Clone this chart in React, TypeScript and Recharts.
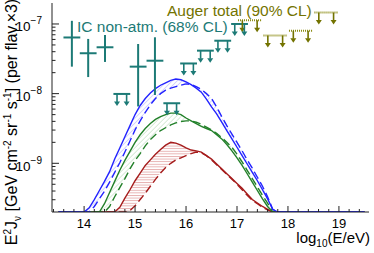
import React from 'react';
import { ComposedChart, Line, Area, Scatter, XAxis, YAxis, ErrorBar } from 'recharts';

// log10(E/eV) sampling grid of the model curves
const E_GRID = [13.5, 14.0, 14.1, 14.2, 14.3, 14.4, 14.5, 14.6, 14.7, 14.8, 14.9, 15.0, 15.1, 15.2, 15.3, 15.4, 15.5, 15.6, 15.7, 15.8, 15.9, 16.0, 16.1, 16.2, 16.3, 16.4, 16.5, 16.6, 16.7, 16.8, 16.9, 17.0, 17.1, 17.2, 17.3, 17.4, 17.5, 17.6, 17.7, 17.8, 19.5];

const BLUE_SOLID = [2e-10, 2e-10, 2.29e-10, 3.02e-10, 4.07e-10, 5.5e-10, 7.59e-10, 1.15e-9, 1.66e-9, 2.4e-9, 3.47e-9, 5.01e-9, 6.76e-9, 8.51e-9, 1.02e-8, 1.18e-8, 1.32e-8, 1.43e-8, 1.55e-8, 1.62e-8, 1.58e-8, 1.48e-8, 1.35e-8, 1.2e-8, 1.05e-8, 8.32e-9, 6.46e-9, 5.13e-9, 3.89e-9, 2.95e-9, 2.24e-9, 1.7e-9, 1.29e-9, 9.77e-10, 7.41e-10, 5.62e-10, 4.17e-10, 3.09e-10, 2.19e-10, 2e-10, 2e-10];
const BLUE_DASH = [2e-10, 2e-10, 2e-10, 2.4e-10, 3.09e-10, 3.98e-10, 5.37e-10, 7.41e-10, 1.02e-9, 1.45e-9, 2.09e-9, 3.02e-9, 4.07e-9, 5.37e-9, 6.92e-9, 8.51e-9, 1.0e-8, 1.12e-8, 1.2e-8, 1.26e-8, 1.32e-8, 1.38e-8, 1.35e-8, 1.26e-8, 1.15e-8, 1.0e-8, 8.51e-9, 6.46e-9, 4.68e-9, 3.47e-9, 2.63e-9, 2.0e-9, 1.51e-9, 1.12e-9, 8.51e-10, 6.31e-10, 4.68e-10, 3.31e-10, 2.19e-10, 2e-10, 2e-10];
const GREEN_SOLID = [2e-10, 2e-10, 2e-10, 2e-10, 2e-10, 2.63e-10, 3.8e-10, 5.5e-10, 7.94e-10, 1.1e-9, 1.48e-9, 2.0e-9, 2.57e-9, 3.16e-9, 3.72e-9, 4.27e-9, 4.68e-9, 5.01e-9, 5.25e-9, 5.25e-9, 5.01e-9, 4.47e-9, 4.07e-9, 3.72e-9, 3.39e-9, 3.16e-9, 2.95e-9, 2.57e-9, 2.24e-9, 1.86e-9, 1.51e-9, 1.2e-9, 9.33e-10, 7.08e-10, 5.37e-10, 4.07e-10, 3.09e-10, 2.4e-10, 2e-10, 2e-10, 2e-10];
const GREEN_DASH = [2e-10, 2e-10, 2e-10, 2e-10, 2e-10, 2e-10, 2.4e-10, 3.31e-10, 4.47e-10, 6.03e-10, 8.32e-10, 1.1e-9, 1.38e-9, 1.78e-9, 2.19e-9, 2.57e-9, 2.95e-9, 3.24e-9, 3.55e-9, 3.8e-9, 3.98e-9, 4.07e-9, 4.07e-9, 3.89e-9, 3.63e-9, 3.31e-9, 3.02e-9, 2.69e-9, 2.34e-9, 2.0e-9, 1.7e-9, 1.35e-9, 1.05e-9, 7.94e-10, 6.03e-10, 4.57e-10, 3.47e-10, 2.69e-10, 2e-10, 2e-10, 2e-10];
const RED_SOLID = [2e-10, 2e-10, 2e-10, 2e-10, 2e-10, 2e-10, 2e-10, 2e-10, 2.34e-10, 3.16e-10, 4.17e-10, 5.62e-10, 7.24e-10, 9.33e-10, 1.12e-9, 1.35e-9, 1.58e-9, 1.82e-9, 2.0e-9, 1.95e-9, 1.82e-9, 1.66e-9, 1.55e-9, 1.51e-9, 1.45e-9, 1.29e-9, 1.15e-9, 9.77e-10, 8.32e-10, 7.08e-10, 6.03e-10, 5.13e-10, 4.37e-10, 3.63e-10, 3.02e-10, 2.69e-10, 2.4e-10, 2.19e-10, 2e-10, 2e-10, 2e-10];
const RED_DASH = [2e-10, 2e-10, 2e-10, 2e-10, 2e-10, 2e-10, 2e-10, 2e-10, 2e-10, 2e-10, 2.09e-10, 2.45e-10, 3.02e-10, 3.72e-10, 4.68e-10, 5.89e-10, 7.24e-10, 8.71e-10, 1.0e-9, 1.12e-9, 1.2e-9, 1.29e-9, 1.38e-9, 1.45e-9, 1.41e-9, 1.29e-9, 1.12e-9, 9.55e-10, 8.13e-10, 6.92e-10, 5.89e-10, 5.01e-10, 4.17e-10, 3.47e-10, 2.95e-10, 2.63e-10, 2.34e-10, 2.14e-10, 2e-10, 2e-10, 2e-10];

// IceCube non-atmospheric flux points (68% CL)
const IC_E = [13.76, 14.08, 14.41, 15.06, 15.39];
const IC_FLUX = [6.4e-8, 3.8e-8, 4.63e-8, 2.44e-8, 2.97e-8];
const IC_LOW = [2.44e-8, 1.73e-8, 2.85e-8, 6.55e-9, 9.57e-9];
const IC_HIGH = [1.11e-7, 6.1e-8, 6.95e-8, 5.16e-8, 6.44e-8];
const IC_HALF_BIN = 0.165;

// IceCube upper limits
const ICUL_E = [14.74, 15.72, 16.05, 16.38, 16.72, 17.05];
const ICUL_FLUX = [9.9e-9, 7.28e-9, 2.71e-8, 4.14e-8, 5.75e-8, 1.0e-7];
const ICUL_HALF_BIN = 0.165;

// Auger total upper limits (90% CL)
const AUGER_E = [17.25, 17.75, 18.25, 18.75];
const AUGER_FLUX = [1.13e-7, 6.84e-8, 8.0e-8, 1.46e-7];
const AUGER_HALF_BIN = 0.23;

const X_TICKS = [13.4, 13.6, 13.8, 14, 14.2, 14.4, 14.6, 14.8, 15, 15.2, 15.4, 15.6, 15.8, 16, 16.2, 16.4, 16.6, 16.8, 17, 17.2, 17.4, 17.6, 17.8, 18, 18.2, 18.4, 18.6, 18.8, 19, 19.2, 19.4];
const Y_TICKS = [3e-10, 4e-10, 5e-10, 6e-10, 7e-10, 8e-10, 9e-10, 1e-9, 2e-9, 3e-9, 4e-9, 5e-9, 6e-9, 7e-9, 8e-9, 9e-9, 1e-8, 2e-8, 3e-8, 4e-8, 5e-8, 6e-8, 7e-8, 8e-8, 9e-8, 1e-7];
const X_DOMAIN = [13.37, 19.59];
const Y_DOMAIN = [2e-10, 2e-7];

const BLUE = '#2323ff';
const GREEN = '#23802a';
const RED = '#a51c1c';
const TEAL = '#1c7a76';
const OLIVE = '#737300';
const AXIS = '#222';
const FONT = '"Liberation Sans", Arial, Helvetica, sans-serif';

const curveData = E_GRID.map((x, i) => ({
  x,
  bs: BLUE_SOLID[i],
  bd: BLUE_DASH[i],
  gs: GREEN_SOLID[i],
  gd: GREEN_DASH[i],
  rs: RED_SOLID[i],
  rd: RED_DASH[i],
  bBand: [BLUE_SOLID[i], BLUE_DASH[i]],
  gBand: [GREEN_SOLID[i], GREEN_DASH[i]],
  rBand: [RED_SOLID[i], RED_DASH[i]],
}));

const icPoints = IC_E.map((x, i) => ({
  x,
  y: IC_FLUX[i],
  ey: [IC_FLUX[i] - IC_LOW[i], IC_HIGH[i] - IC_FLUX[i]],
  ex: IC_HALF_BIN,
}));
const icLimits = ICUL_E.map((x, i) => ({ x, y: ICUL_FLUX[i], ex: ICUL_HALF_BIN }));
const icArrows = ICUL_E.flatMap((x, i) => [
  { x: x - 0.57 * ICUL_HALF_BIN, y: ICUL_FLUX[i] },
  { x: x + 0.57 * ICUL_HALF_BIN, y: ICUL_FLUX[i] },
]);
const augerLimits = AUGER_E.map((x, i) => ({ x, y: AUGER_FLUX[i], ex: AUGER_HALF_BIN }));
const augerArrows = AUGER_E.flatMap((x, i) => [
  { x: x - 0.63 * AUGER_HALF_BIN, y: AUGER_FLUX[i] },
  { x: x + 0.63 * AUGER_HALF_BIN, y: AUGER_FLUX[i] },
]);

const isInt = (v: number) => Math.abs(v - Math.round(v)) < 1e-6;

const XTick = (p: any) => {
  const { x, y, payload } = p;
  const v = payload.value;
  const major = isInt(v);
  return (
    <g>
      <line x1={x} y1={y} x2={x} y2={y - (major ? 6 : 3)} stroke={AXIS} strokeWidth={1} />
      {major && (
        <text x={x} y={y + 15.5} textAnchor="middle" fontSize={13} fill="#000" fontFamily={FONT}>
          {Math.round(v)}
        </text>
      )}
    </g>
  );
};

const YTick = (p: any) => {
  const { x, y, payload } = p;
  const lg = Math.log10(payload.value);
  const major = isInt(lg);
  return (
    <g>
      <line x1={x} y1={y} x2={x + (major ? 7 : 3.5)} y2={y} stroke={AXIS} strokeWidth={1} />
      {major && (
        <text x={x - 10} y={y + 7.5} textAnchor="end" fontSize={13.5} fill="#000" fontFamily={FONT}>
          10
          <tspan dy={-7} fontSize={10}>{'\u2212' + Math.abs(Math.round(lg))}</tspan>
        </text>
      )}
    </g>
  );
};

const makeArrow = (color: string) => (props: any) => {
  const { cx, cy } = props;
  if (cx == null || cy == null) return <g />;
  const len = 12;
  return (
    <g>
      <line x1={cx} y1={cy} x2={cx} y2={cy + len - 4} stroke={color} strokeWidth={1.6} />
      <polygon points={`${cx - 3},${cy + len - 4.5} ${cx + 3},${cy + len - 4.5} ${cx},${cy + len}`} fill={color} />
    </g>
  );
};
const Nothing = () => <g />;

export default function App() {
  return (
    <div style={{ position: 'absolute', left: 0, top: 0, width: 374, height: 253, background: '#fff', fontFamily: FONT }}>
      <ComposedChart width={374} height={253} data={curveData} margin={{ top: 3, right: 5, bottom: 0, left: 0 }}>
        <defs>
          <pattern id="hatchBlue" patternUnits="userSpaceOnUse" width="3.5" height="3.5" patternTransform="rotate(45)">
            <line x1="0" y1="0" x2="0" y2="3.5" stroke="#9c9cff" strokeWidth="0.8" />
          </pattern>
          <pattern id="hatchGreen" patternUnits="userSpaceOnUse" width="3.5" height="3.5" patternTransform="rotate(45)">
            <line x1="0" y1="0" x2="0" y2="3.5" stroke="#9fcf9f" strokeWidth="0.8" />
          </pattern>
          <pattern id="hatchRed" patternUnits="userSpaceOnUse" width="3" height="2.6">
            <line x1="0" y1="0.5" x2="3" y2="0.5" stroke="#e09a9a" strokeWidth="0.8" />
          </pattern>
        </defs>
        <XAxis
          dataKey="x"
          type="number"
          domain={X_DOMAIN}
          allowDataOverflow
          ticks={X_TICKS}
          interval={0}
          tick={<XTick />}
          tickLine={false}
          tickSize={0}
          tickMargin={0}
          height={41}
          axisLine={{ stroke: AXIS, strokeWidth: 1 }}
        />
        <XAxis
          xAxisId="top"
          orientation="top"
          type="number"
          domain={X_DOMAIN}
          allowDataOverflow
          tick={false}
          tickLine={false}
          height={0}
          axisLine={{ stroke: AXIS, strokeWidth: 1 }}
        />
        <YAxis
          type="number"
          scale="log"
          domain={Y_DOMAIN}
          allowDataOverflow
          ticks={Y_TICKS}
          interval={0}
          tick={<YTick />}
          tickLine={false}
          tickSize={0}
          tickMargin={0}
          width={52}
          axisLine={{ stroke: AXIS, strokeWidth: 1 }}
        />
        <YAxis
          yAxisId="right"
          orientation="right"
          type="number"
          domain={[0, 1]}
          tick={false}
          tickLine={false}
          width={0}
          axisLine={{ stroke: AXIS, strokeWidth: 1 }}
        />

        <Area dataKey="bBand" stroke="none" fill="url(#hatchBlue)" fillOpacity={1} isAnimationActive={false} />
        <Area dataKey="gBand" stroke="none" fill="url(#hatchGreen)" fillOpacity={1} isAnimationActive={false} />
        <Area dataKey="rBand" stroke="none" fill="url(#hatchRed)" fillOpacity={1} isAnimationActive={false} />

        <Line dataKey="rd" stroke={RED} strokeWidth={1.4} strokeDasharray="8 4" dot={false} isAnimationActive={false} />
        <Line dataKey="rs" stroke={RED} strokeWidth={1.4} dot={false} isAnimationActive={false} />
        <Line dataKey="gd" stroke={GREEN} strokeWidth={1.4} strokeDasharray="8 4" dot={false} isAnimationActive={false} />
        <Line dataKey="gs" stroke={GREEN} strokeWidth={1.4} dot={false} isAnimationActive={false} />
        <Line dataKey="bd" stroke={BLUE} strokeWidth={1.4} strokeDasharray="8 4" dot={false} isAnimationActive={false} />
        <Line dataKey="bs" stroke={BLUE} strokeWidth={1.4} dot={false} isAnimationActive={false} />

        <Scatter data={augerLimits} dataKey="y" shape={Nothing} isAnimationActive={false}>
          <ErrorBar dataKey="ex" direction="x" width={0} stroke="#8c8c14" strokeWidth={2} strokeDasharray="1 1" />
        </Scatter>
        <Scatter data={augerArrows} dataKey="y" shape={makeArrow(OLIVE)} isAnimationActive={false} />

        <Scatter data={icPoints} dataKey="y" shape={Nothing} isAnimationActive={false}>
          <ErrorBar dataKey="ey" direction="y" width={0} stroke={TEAL} strokeWidth={2} />
          <ErrorBar dataKey="ex" direction="x" width={0} stroke={TEAL} strokeWidth={2} />
        </Scatter>
        <Scatter data={icLimits} dataKey="y" shape={Nothing} isAnimationActive={false}>
          <ErrorBar dataKey="ex" direction="x" width={0} stroke={TEAL} strokeWidth={2} />
        </Scatter>
        <Scatter data={icArrows} dataKey="y" shape={makeArrow(TEAL)} isAnimationActive={false} />

        <text x={77} y={32} fill={TEAL} fontSize={15.5} fontFamily={FONT}>IC non-atm. (68% CL)</text>
        <text x={167} y={15.5} fill={OLIVE} fontSize={15.5} fontFamily={FONT}>Auger total (90% CL)</text>
        <text x={370} y={243} textAnchor="end" fontSize={15} fill="#000" fontFamily={FONT}>
          log<tspan dy={4} fontSize={10}>10</tspan>
          <tspan dy={-4}>(E/eV)</tspan>
        </text>
        <text transform="rotate(-90)" x={-122} y={17} textAnchor="middle" fontSize={16} fill="#000" fontFamily={FONT}>
          E<tspan dy={-6} fontSize={10}>2</tspan>
          <tspan dy={6}>J</tspan>
          <tspan dy={4} fontSize={10}>ν</tspan>
          <tspan dy={-4}> [GeV cm</tspan>
          <tspan dy={-6} fontSize={10}>-2</tspan>
          <tspan dy={6}> sr</tspan>
          <tspan dy={-6} fontSize={10}>-1</tspan>
          <tspan dy={6}> s</tspan>
          <tspan dy={-6} fontSize={10}>-1</tspan>
          <tspan dy={6}>] (per flav.×3)</tspan>
        </text>
      </ComposedChart>
    </div>
  );
}
